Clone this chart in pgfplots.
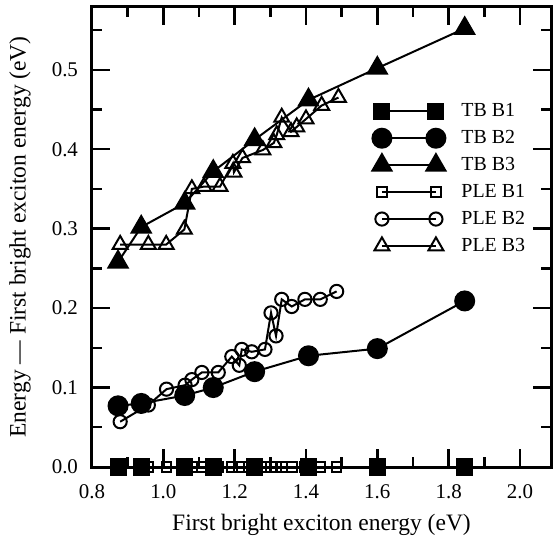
\documentclass[border=0pt]{standalone}
\usepackage{fontspec}
\setmainfont{Liberation Serif}
\usepackage{pgfplots}
\pgfplotsset{compat=1.18}

\begin{document}
\begin{tikzpicture}
\begin{axis}[
  scale only axis, width=229.5bp, height=230bp,
  xmin=0.8, xmax=2.087, ymin=0, ymax=0.579,
  xtick={0.8,1.0,1.2,1.4,1.6,1.8,2.0},
  minor xtick={0.9,1.1,1.3,1.5,1.7,1.9},
  ytick={0,0.1,0.2,0.3,0.4,0.5},
  minor ytick={0.05,0.15,0.25,0.35,0.45,0.55},
  xticklabel style={/pgf/number format/.cd,fixed,precision=1,fixed zerofill},
  yticklabel style={/pgf/number format/.cd,fixed,precision=1,fixed zerofill},
  /pgf/number format/assume math mode=true,
  xticklabel shift=5.5bp, yticklabel shift=3.5bp,
  tick align=inside, major tick length=9bp, minor tick length=5bp,
  axis line style={line width=1.5bp},
  every tick/.style={line width=1.2bp, black},
  tick label style={font=\fontsize{10.5}{12}\selectfont},
  label style={font=\fontsize{11.8}{14}\selectfont},
  xlabel={First bright exciton energy (eV)},
  ylabel={Energy --- First bright exciton energy (eV)},
  xlabel style={at={(axis description cs:0.5,0)}, anchor=north, yshift=-20bp},
  ylabel style={at={(axis description cs:0,0.5)}, anchor=center, yshift=36bp},
  clip=false,
  legend style={draw=none, fill=none, at={(0.597,0.809)}, anchor=north west,
    font=\fontsize{10}{12}\selectfont, row sep=1.4bp,
    /tikz/every odd column/.append style={column sep=6bp}},
  legend cell align=left,
  legend image code/.code={\draw[#1] plot coordinates {(0bp,0bp) (27bp,0bp)};},
  every axis plot/.append style={black, line width=1bp},
]
\coordinate (ll) at (rel axis cs:0,0);
\coordinate (ur) at (rel axis cs:1,1);
\addplot[mark=square*, mark size=3.75bp] coordinates {
(0.873,0) (0.938,0) (1.060,0) (1.140,0) (1.256,0) (1.407,0) (1.600,0) (1.845,0)};
\addlegendentry{TB B1}
\addplot[mark=*, mark size=4.75bp] coordinates {
(0.873,0.077) (0.938,0.080) (1.060,0.090) (1.140,0.100) (1.256,0.120) (1.407,0.140) (1.600,0.149) (1.845,0.209)};
\addlegendentry{TB B2}
\addplot[mark=triangle*, mark size=5.5bp] coordinates {
(0.873,0.258) (0.938,0.302) (1.060,0.332) (1.140,0.372) (1.256,0.412) (1.407,0.462) (1.600,0.502) (1.845,0.552)};
\addlegendentry{TB B3}
\addplot[mark=square, mark size=2.4bp] coordinates {
(0.879,0) (0.958,0) (1.009,0) (1.061,0) (1.080,0) (1.108,0) (1.154,0) (1.192,0) (1.213,0) (1.220,0)
(1.248,0) (1.285,0) (1.302,0) (1.316,0) (1.332,0) (1.360,0) (1.397,0) (1.440,0) (1.486,0)};
\addlegendentry{PLE B1}
\addplot[mark=o, mark size=3.3bp] coordinates {
(0.879,0.057) (0.958,0.078) (1.009,0.098) (1.061,0.103) (1.080,0.110) (1.108,0.119) (1.154,0.119)
(1.192,0.139) (1.213,0.128) (1.220,0.148) (1.248,0.145) (1.285,0.148) (1.302,0.194) (1.316,0.165)
(1.332,0.211) (1.360,0.202) (1.397,0.211) (1.440,0.211) (1.486,0.221)};
\addlegendentry{PLE B2}
\addplot[mark=triangle, mark size=4.3bp] coordinates {
(0.879,0.280) (0.958,0.280) (1.008,0.280) (1.059,0.299) (1.080,0.350) (1.114,0.353) (1.159,0.353)
(1.195,0.382) (1.198,0.371) (1.222,0.389) (1.279,0.399) (1.310,0.408) (1.318,0.418) (1.332,0.440)
(1.358,0.422) (1.374,0.428) (1.400,0.438) (1.444,0.455) (1.491,0.465)};
\addlegendentry{PLE B3}
\end{axis}
\pgfresetboundingbox
\path ([xshift=-46bp,yshift=-35bp]ll) rectangle ([xshift=1bp,yshift=3.5bp]ur);
\end{tikzpicture}
\end{document}
